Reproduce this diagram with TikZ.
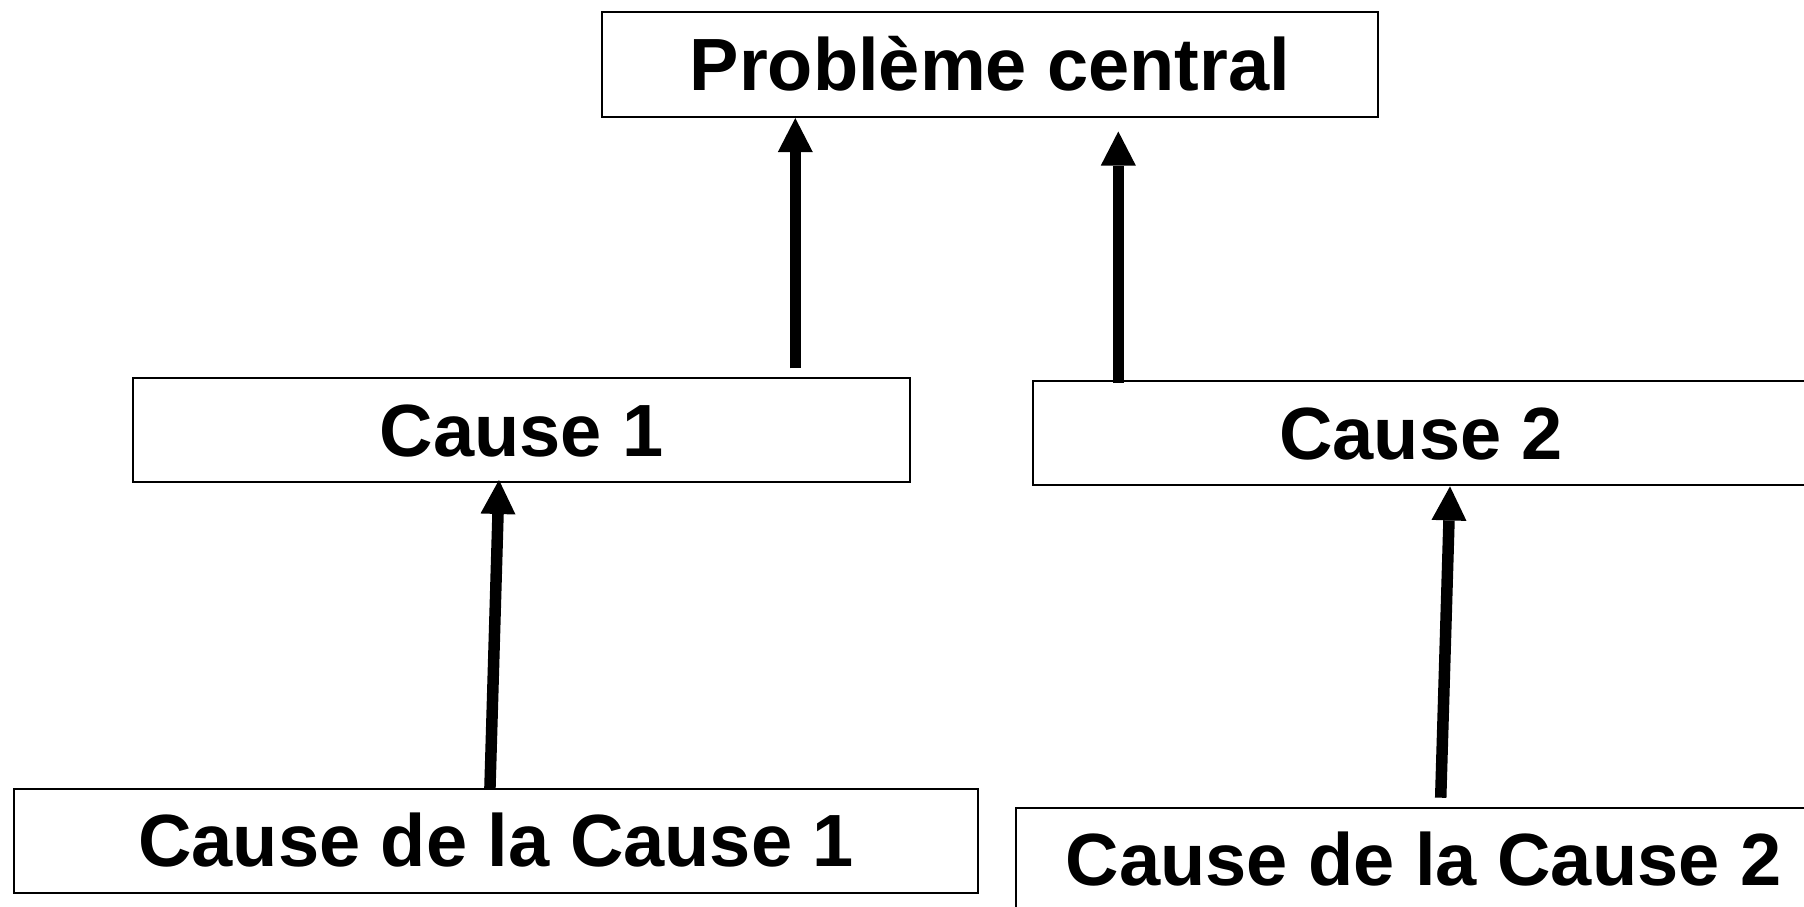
\documentclass[tikz,border=0pt]{standalone}
\usepackage{fontspec}
\setmainfont{Liberation Sans}
\usetikzlibrary{arrows.meta}
\tikzset{
  box/.style={draw=black, line width=2pt, rectangle, inner sep=0pt, outer sep=0pt,
    minimum height=104pt, text height=52pt, text depth=0pt,
    font=\fontsize{74pt}{89pt}\selectfont\bfseries},
  bigarrow/.style={line width=11.5pt, black,
    -{Triangle[width=35pt,length=34pt,line width=0pt]}}
}
\begin{document}
\begin{tikzpicture}[x=1pt,y=-1pt]
\useasboundingbox (0,0) rectangle (1804,907);
\fill[white] (0,0) rectangle (1804,907);
\clip (0,0) rectangle (1804,907);
\node[box, minimum width=776.3pt] (top) at (990,64.5) {Problème central};
\node[box, minimum width=777pt] (c1) at (521.5,430.3) {Cause 1};
\node[box, minimum width=777pt] (c2) at (1421.2,433) {Cause 2};
\node[box, minimum width=964.3pt] (cc1) at (496.2,840.7) {Cause de la Cause 1};
\node[box, minimum width=815pt] (cc2) at (1423.5,859.7) {Cause de la Cause 2};
\draw[bigarrow] ([xshift=273.8pt,yshift=10pt]c1.north) -- ([xshift=-194.7pt,yshift=-1.6pt]top.south);
\draw[bigarrow] ([xshift=-302.9pt,yshift=-2pt]c2.north) -- ([xshift=128.3pt,yshift=-15pt]top.south);
\draw[bigarrow] ([xshift=-6.3pt,yshift=-1pt]cc1.north) -- ([xshift=-22.5pt,yshift=2.3pt]c1.south);
\draw[bigarrow] ([xshift=17.2pt,yshift=10pt]cc2.north) -- ([xshift=28.8pt,yshift=-1.4pt]c2.south);
\end{tikzpicture}
\end{document}
